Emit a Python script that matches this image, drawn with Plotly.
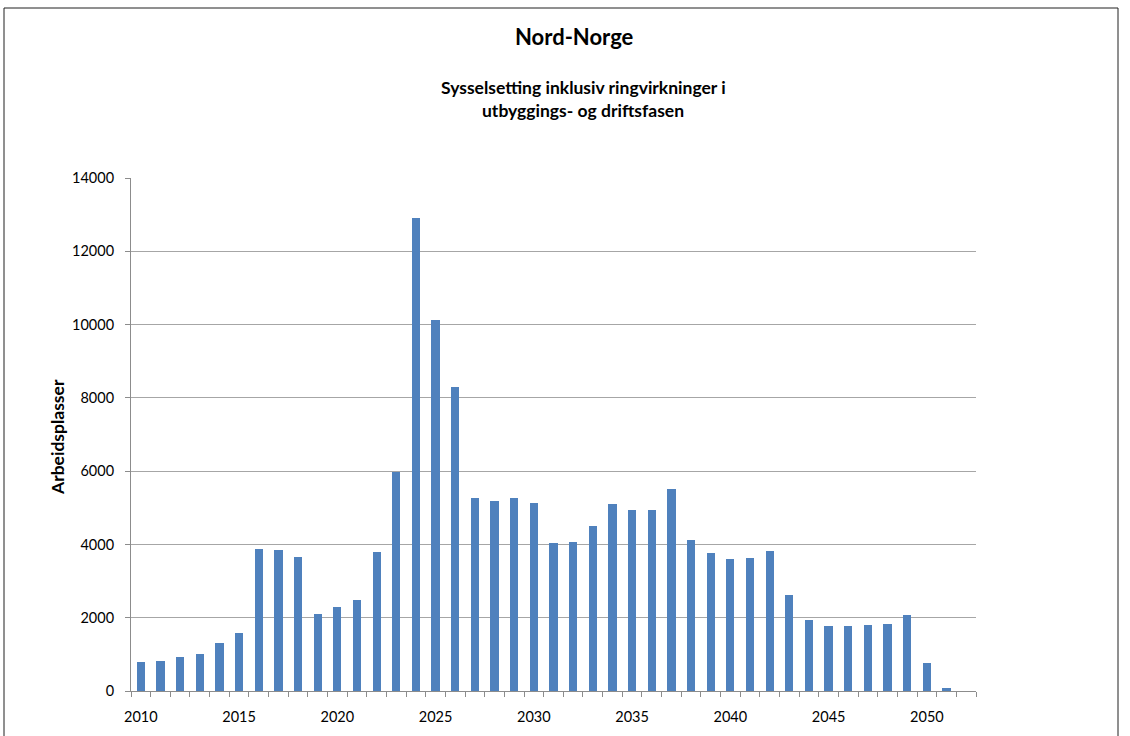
import plotly.graph_objects as go

years = list(range(2010, 2053))
values = [780, 820, 935, 1010, 1320, 1580, 3880, 3845, 3655, 2090, 2285, 2480,
          3790, 5975, 12920, 10125, 8290, 5272, 5175, 5272, 5120, 4030, 4075,
          4490, 5090, 4930, 4930, 5500, 4110, 3755, 3600, 3640, 3810, 2620,
          1930, 1775, 1775, 1792, 1828, 2085, 765, 80, None]
tick_years = [2010, 2015, 2020, 2025, 2030, 2035, 2040, 2045, 2050]
y_ticks = [0, 2000, 4000, 6000, 8000, 10000, 12000, 14000]

title = "Nord-Norge"
subtitle1 = "Sysselsetting inklusiv ringvirkninger i"
subtitle2 = "utbyggings- og driftsfasen"
ytitle = "Arbeidsplasser"

FONT = "Lato"
L, R, T, B = 131, 976, 178, 691
W, H = 1130, 736

def px(x):
    return (x - L) / (R - L)

def py(y):
    return (B - y) / (B - T)

fig = go.Figure()
fig.add_trace(go.Bar(
    x=years, y=values, width=0.42,
    marker=dict(color="#4f81bd", line=dict(width=0)),
    hoverinfo="x+y",
))

fig.update_layout(
    width=W, height=H,
    margin=dict(l=L, r=W - R, t=T, b=H - B, pad=0),
    paper_bgcolor="white", plot_bgcolor="white",
    showlegend=False, bargap=0,
    font=dict(family=FONT, size=14, color="#000000"),
    xaxis=dict(
        range=[2009.5, 2052.5], tickvals=tick_years,
        ticktext=[str(t) for t in tick_years],
        ticks="", showgrid=False, zeroline=False,
        showline=True, linecolor="#8c8c8c", linewidth=1,
        ticklabelstandoff=13,
        tickfont=dict(family=FONT, size=14.5, color="#000"),
        minor=dict(tick0=2009.5, dtick=1, ticks="outside", ticklen=5,
                   tickcolor="#8c8c8c", tickwidth=1, showgrid=False),
    ),
    yaxis=dict(
        range=[0, 14000], tickvals=y_ticks,
        ticktext=[str(v) for v in y_ticks],
        ticks="outside", ticklen=5, tickcolor="#8c8c8c",
        showgrid=True, gridcolor="#a6a6a6", gridwidth=1,
        zeroline=False, showline=True, linecolor="#8c8c8c", linewidth=1,
        ticklabelstandoff=8,
        tickfont=dict(family=FONT, size=14.5, color="#000"),
    ),
)

fig.add_annotation(text="<b>" + title + "</b>", x=px(574), y=py(37),
                   xref="paper", yref="paper", showarrow=False,
                   font=dict(family=FONT, size=22, color="#000"),
                   xanchor="center", yanchor="middle")
fig.add_annotation(text="<b>" + subtitle1 + "</b>", x=px(583), y=py(88),
                   xref="paper", yref="paper", showarrow=False,
                   font=dict(family=FONT, size=17.5, color="#000"),
                   xanchor="center", yanchor="middle")
fig.add_annotation(text="<b>" + subtitle2 + "</b>", x=px(583), y=py(110),
                   xref="paper", yref="paper", showarrow=False,
                   font=dict(family=FONT, size=17.5, color="#000"),
                   xanchor="center", yanchor="middle")
fig.add_annotation(text="<b>" + ytitle + "</b>", x=px(57), y=py(437),
                   xref="paper", yref="paper", showarrow=False, textangle=-90,
                   font=dict(family=FONT, size=17.5, color="#000"),
                   xanchor="center", yanchor="middle")

fig.add_shape(type="rect", xref="paper", yref="paper",
              x0=px(4), x1=px(1118), y0=py(760), y1=py(8),
              line=dict(color="#202020", width=1), fillcolor="rgba(0,0,0,0)",
              layer="below")

fig.write_html("out.html")
